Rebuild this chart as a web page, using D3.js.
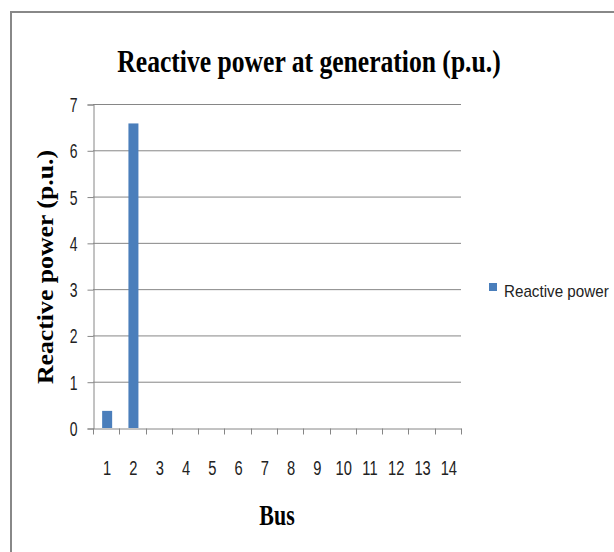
<!DOCTYPE html>
<html>
<head>
<meta charset="utf-8">
<script src="https://cdn.jsdelivr.net/npm/d3@7"></script>
<style>
  body { margin: 0; background: #fff; }
  svg { display: block; }
</style>
</head>
<body>
<script>
// Data
var buses = ["1", "2", "3", "4", "5", "6", "7", "8", "9", "10", "11", "12", "13", "14"];
var reactivePower = [0.37, 6.58, 0, 0, 0, 0, 0, 0, 0, 0, 0, 0, 0, 0];
var yTicks = [0, 1, 2, 3, 4, 5, 6, 7];
var seriesName = "Reactive power";

var W = 614, H = 552;
var margin = { left: 93, top: 104, right: 153, bottom: 124 };
var squeeze = 0.7;

var svg = d3.select("body").append("svg").attr("width", W).attr("height", H);

// Frame (only top and left visible)
svg.append("path")
  .attr("d", "M11," + H + "V12H" + W)
  .attr("fill", "none").attr("stroke", "#888").attr("stroke-width", 2);

var x = d3.scaleBand().domain(buses).range([margin.left, W - margin.right]).paddingInner(0).paddingOuter(0);
var y = d3.scaleLinear().domain([0, 7]).range([H - margin.bottom, margin.top]);

// Gridlines
svg.append("g").selectAll("line").data(yTicks.filter(function (d) { return d > 0; })).enter().append("line")
  .attr("x1", margin.left).attr("x2", W - margin.right)
  .attr("y1", function (d) { return y(d) + 0.5; }).attr("y2", function (d) { return y(d) + 0.5; })
  .attr("stroke", "#868686").attr("stroke-width", 1);

// Bars
var bw = 10;
svg.append("g").selectAll("rect").data(reactivePower).enter().append("rect")
  .attr("x", function (d, i) { return x(buses[i]) + x.bandwidth() / 2 - bw / 2 + 1; })
  .attr("y", function (d) { return y(d); })
  .attr("width", bw)
  .attr("height", function (d) { return y(0) - y(d); })
  .attr("fill", "#4a7ebb");

// Y axis
var yAxis = svg.append("g").attr("transform", "translate(" + (margin.left + 0.5) + ",0.5)")
  .call(d3.axisLeft(y).tickValues(yTicks).tickFormat(d3.format("d")).tickSize(6).tickPadding(0));
yAxis.select(".domain").attr("stroke", "#868686");
yAxis.selectAll(".tick line").attr("stroke", "#868686");
yAxis.selectAll(".tick text")
  .attr("x", null).attr("dy", null)
  .attr("transform", "translate(-16,7) scale(" + squeeze + ",1)")
  .attr("font-family", "Liberation Sans, Arial, sans-serif").attr("font-size", 20).attr("fill", "#222");

// X axis
var xAxis = svg.append("g").attr("transform", "translate(0," + (y(0) + 0.5) + ")")
  .call(d3.axisBottom(x).tickSize(0).tickPadding(0));
xAxis.select(".domain").attr("stroke", "#868686");
xAxis.selectAll(".tick text")
  .attr("y", null).attr("dy", null)
  .attr("transform", "translate(1,46) scale(" + squeeze + ",1)")
  .attr("font-family", "Liberation Sans, Arial, sans-serif").attr("font-size", 21).attr("fill", "#222");

// Category boundary ticks
var bounds = buses.map(function (b) { return x(b); }).concat([x.range()[1]]);
xAxis.selectAll(".btick").data(bounds).enter().append("line")
  .attr("class", "btick")
  .attr("x1", function (d) { return Math.round(d) + 0.5; }).attr("x2", function (d) { return Math.round(d) + 0.5; })
  .attr("y1", 0).attr("y2", 6).attr("stroke", "#868686");

// Title
svg.append("text")
  .attr("transform", "translate(309,72) scale(0.8,1)")
  .attr("text-anchor", "middle")
  .attr("font-family", "Liberation Serif, Times New Roman, serif")
  .attr("font-weight", "bold").attr("font-size", 32).attr("fill", "#000")
  .text("Reactive power at generation (p.u.)");

// Y title
svg.append("text")
  .attr("transform", "translate(53,267) rotate(-90) scale(1.12,1)")
  .attr("text-anchor", "middle")
  .attr("font-family", "Liberation Serif, Times New Roman, serif")
  .attr("font-weight", "bold").attr("font-size", 23).attr("fill", "#000")
  .text("Reactive power (p.u.)");

// X title
svg.append("text")
  .attr("transform", "translate(277,525) scale(0.73,1)")
  .attr("text-anchor", "middle")
  .attr("font-family", "Liberation Serif, Times New Roman, serif")
  .attr("font-weight", "bold").attr("font-size", 30).attr("fill", "#000")
  .text("Bus");

// Legend
var legend = svg.append("g").attr("transform", "translate(489,283)");
legend.append("rect").attr("width", 8).attr("height", 8).attr("fill", "#4a7ebb");
legend.append("text")
  .attr("transform", "translate(15,14) scale(0.95,1)")
  .attr("font-family", "Liberation Sans, Arial, sans-serif").attr("font-size", 16).attr("fill", "#222")
  .text(seriesName);
</script>
</body>
</html>
